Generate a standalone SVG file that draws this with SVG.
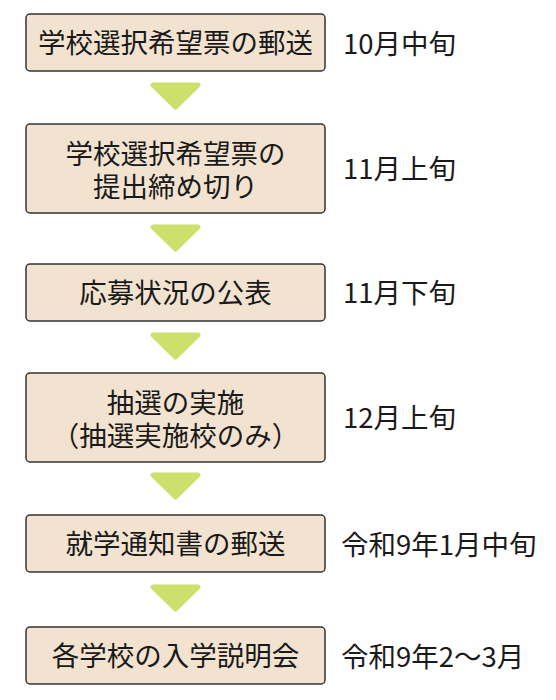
<svg xmlns="http://www.w3.org/2000/svg" width="556" height="700" viewBox="0 0 556 700">
<style>
.box rect{fill:#f2e3d0;stroke:#333;stroke-width:1.5}
text{font-family:"Noto Sans CJK JP","Noto Sans",sans-serif;font-size:27.5px;fill:#1a1a1a}
.c{text-anchor:middle}
.arr{fill:#cde06c;stroke:#cde06c;stroke-width:5;stroke-linejoin:round}
</style>
<rect width="556" height="700" fill="#fff"/>
<g id="connectors">
<polygon class="arr" points="153,85 198,85 175.5,107"/>
<polygon class="arr" points="153,227 198,227 175.5,249"/>
<polygon class="arr" points="153,335 198,335 175.5,357"/>
<polygon class="arr" points="153,475 198,475 175.5,497"/>
<polygon class="arr" points="153,587 198,587 175.5,609"/>
</g>
<g id="n1" class="box"><rect x="26" y="14" width="299" height="57" rx="4"/><text class="c" x="175.5" y="53">学校選択希望票の郵送</text></g>
<g id="n2" class="box"><rect x="26" y="124" width="299" height="89" rx="4"/><text class="c" x="175.5" y="164">学校選択希望票の</text><text class="c" x="175.5" y="197">提出締め切り</text></g>
<g id="n3" class="box"><rect x="26" y="264" width="299" height="57" rx="4"/><text class="c" x="175.5" y="303">応募状況の公表</text></g>
<g id="n4" class="box"><rect x="26" y="373" width="299" height="89" rx="4"/><text class="c" x="175.5" y="413">抽選の実施</text><text class="c" x="175.5" y="446">（抽選実施校のみ）</text></g>
<g id="n5" class="box"><rect x="26" y="515" width="299" height="57" rx="4"/><text class="c" x="175.5" y="554">就学通知書の郵送</text></g>
<g id="n6" class="box"><rect x="26" y="627" width="299" height="57" rx="4"/><text class="c" x="175.5" y="666">各学校の入学説明会</text></g>
<g id="labels">
<text x="343" y="54">10月中旬</text>
<text x="343" y="179">11月上旬</text>
<text x="343" y="303">11月下旬</text>
<text x="343" y="428">12月上旬</text>
<text x="341" y="555">令和9年1月中旬</text>
<text x="341" y="667">令和9年2～3月</text>
</g>
</svg>
